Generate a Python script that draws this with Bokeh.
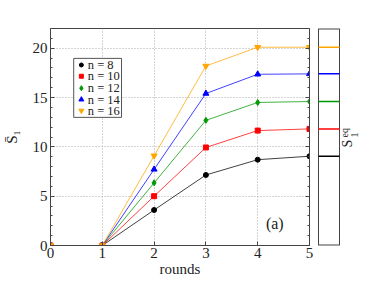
from math import pi
from bokeh.plotting import figure
from bokeh.core.properties import value
from bokeh.models import (Range1d, LinearAxis, Label, BoxAnnotation,
                          FixedTicker, CustomJSTickFormatter)
from bokeh.layouts import row
from bokeh.embed import file_html
from bokeh.resources import INLINE

rounds = [0, 1, 2, 3, 4, 5]
s_n8 = [0, 0, 3.6, 7.15, 8.7, 9.05]
s_n10 = [0, 0, 5.0, 9.94, 11.65, 11.82]
s_n12 = [0, 0, 6.35, 12.69, 14.5, 14.6]
s_n14 = [0, 0, 7.72, 15.41, 17.36, 17.4]
s_n16 = [0, 0, 9.1, 18.2, 20.1, 20.1]
series = [s_n8, s_n10, s_n12, s_n14, s_n16]
labels = ["n = 8", "n = 10", "n = 12", "n = 14", "n = 16"]
s_eq = [9.05, 11.82, 14.6, 17.4, 20.1]
x_ticks = [0, 1, 2, 3, 4, 5]
y_ticks = [0, 5, 10, 15, 20]
Y_MAX = 22

colors = ["#000000", "#ff0000", "#009900", "#0000ff", "#ffa500"]
markers = ["circle", "square", "diamond", "triangle", "inverted_triangle"]
msizes = [5, 5, 6, 6, 6]
FONT = "Liberation Serif"
FRAME = "#444444"
TXT = "#222222"

yr = Range1d(0, Y_MAX)
p = figure(width=313, height=285, x_range=Range1d(0, 5), y_range=yr,
           output_backend="svg", toolbar_location=None,
           min_border_left=49, min_border_right=4, min_border_top=28,
           min_border_bottom=40)
p.outline_line_color = FRAME

p.xaxis.ticker = FixedTicker(ticks=x_ticks)
p.yaxis.ticker = FixedTicker(ticks=y_ticks, minor_ticks=list(range(0, 23)))
for ax in (p.xaxis[0], p.yaxis[0]):
    ax.axis_line_color = FRAME
    ax.major_tick_line_color = FRAME
    ax.minor_tick_line_color = FRAME
    ax.major_tick_in = 4
    ax.major_tick_out = 0
    ax.minor_tick_in = 2
    ax.minor_tick_out = 0
    ax.major_label_text_font = FONT
    ax.major_label_text_font_size = "15px"
    ax.major_label_text_color = TXT
    ax.axis_label_text_font = FONT
    ax.axis_label_text_font_style = "normal"
    ax.axis_label_text_font_size = "15px"
    ax.axis_label_text_color = TXT
p.xaxis.minor_tick_line_color = None
p.xaxis.major_label_standoff = 2
p.yaxis.major_label_standoff = 3
p.xaxis.axis_label = "rounds"
p.xaxis.axis_label_standoff = 0
p.yaxis.axis_label = "S\u0304\u2081"
p.yaxis.axis_label_standoff = 10

right = LinearAxis(ticker=FixedTicker(ticks=y_ticks, minor_ticks=list(range(0, 23))),
                   formatter=CustomJSTickFormatter(code="return ''"))
right.axis_line_color = FRAME
right.major_tick_line_color = FRAME
right.minor_tick_line_color = FRAME
right.major_tick_in = 4
right.major_tick_out = 0
right.minor_tick_in = 2
right.minor_tick_out = 0
right.major_label_text_font_size = "1px"
right.major_label_standoff = 0
p.add_layout(right, "right")

p.xgrid.ticker = FixedTicker(ticks=[1, 2, 3, 4])
p.ygrid.ticker = FixedTicker(ticks=[5, 10, 15, 20])
p.grid.grid_line_color = "#aaaaaa"
p.grid.grid_line_dash = "1 2"
p.grid.grid_line_width = 1

for ys, c, m, s in zip(series, colors, markers, msizes):
    p.line(rounds, ys, line_color=c, line_width=1, line_alpha=0.75)
    p.scatter(rounds, ys, marker=m, size=s, fill_color=c, line_color=c)

# hand-built legend (box position in data units of the main panel)
p.add_layout(BoxAnnotation(left=0.448, right=1.371, bottom=12.99, top=18.97,
                           fill_color="white", fill_alpha=1,
                           line_color="#555555", line_alpha=1, line_width=1,
                           level="underlay"))
leg_y = [18.3, 17.16, 15.95, 14.8, 13.67]
p.scatter([0.596] * 5, leg_y, marker=markers, size=[4, 4, 5, 5, 5],
          fill_color=colors, line_color=colors, level="overlay")
p.text([0.72] * 5, leg_y, text=labels, text_font_size="12.5px",
       text_baseline="middle", text_align="left", text_color=TXT,
       text_font=value(FONT), level="overlay")

p.add_layout(Label(x=4.33, y=2.24, text="(a)", text_font=FONT,
                   text_font_size="16px", text_align="center",
                   text_baseline="middle", text_color=TXT))

# side panel: the frame spans the equilibrium box plus room for its label
PANEL = 21
q = figure(width=56, height=285, x_range=Range1d(-1 / PANEL, 46 / PANEL),
           y_range=yr, output_backend="svg", toolbar_location=None,
           x_axis_location=None, y_axis_location=None,
           min_border_left=4, min_border_right=5, min_border_top=28,
           min_border_bottom=40)
q.outline_line_color = None
q.grid.visible = False
# box outline of the side panel
q.segment(x0=[0, 1, 0, 0], x1=[0, 1, 1, 1], y0=[0, 0, 0, Y_MAX],
          y1=[Y_MAX, Y_MAX, 0, Y_MAX], line_color=FRAME,
          line_width=[1, 1, 2, 2])
q.segment(x0=[0] * len(s_eq), x1=[1] * len(s_eq), y0=s_eq, y1=s_eq,
          line_color=colors, line_width=1.5)

q.text(x=[29 / PANEL], y=[9.94], text=["S"], angle=pi / 2,
       text_font=value(FONT), text_font_size="14px", text_align="left",
       text_baseline="alphabetic", text_color=TXT)
q.text(x=[26 / PANEL, 36 / PANEL], y=[10.95, 10.95], text=["eq", "1"],
       angle=pi / 2, text_font=value(FONT), text_font_size="10px",
       text_align="left", text_baseline="alphabetic", text_color=TXT)

layout = row(p, q)
open("out.html", "w").write(file_html(layout, INLINE))
